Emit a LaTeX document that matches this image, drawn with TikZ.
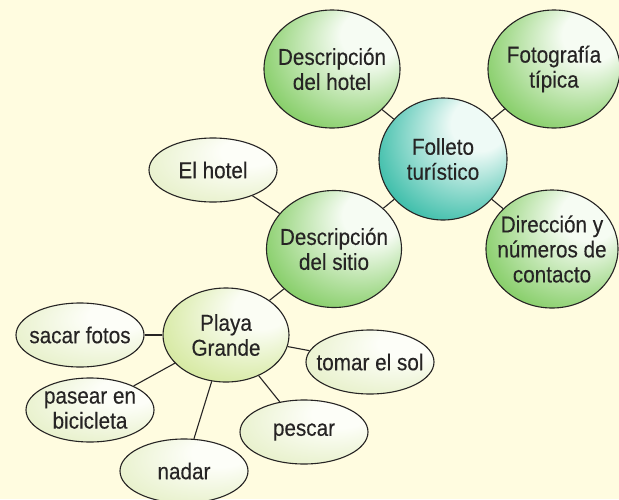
\documentclass[tikz,border=0pt]{standalone}
\usepackage{fontspec}
\setmainfont{Liberation Sans}[FakeStretch=0.9,FakeBold=0.3]
\usetikzlibrary{shapes.geometric}
\definecolor{paper}{RGB}{255,252,224}
\definecolor{inkgray}{RGB}{38,36,36}
\definecolor{leafdark}{RGB}{70,168,50}
\definecolor{leafmid}{RGB}{135,206,105}
\definecolor{leaflight}{RGB}{246,252,243}
\definecolor{tealdark}{RGB}{0,156,136}
\definecolor{tealmid}{RGB}{62,190,170}
\definecolor{teallight}{RGB}{238,250,246}
\definecolor{limedark}{RGB}{182,213,105}
\definecolor{limemid}{RGB}{214,233,162}
\definecolor{limelight}{RGB}{251,253,244}
\definecolor{paledark}{RGB}{208,226,160}
\definecolor{palemid}{RGB}{232,241,204}
\definecolor{palelight}{RGB}{253,254,248}
\pgfdeclareradialshading{leafball}{\pgfpoint{18bp}{18bp}}{color(0bp)=(leaflight); color(11bp)=(leaflight); color(34bp)=(leafmid); color(52bp)=(leafdark)}
\pgfdeclareradialshading{tealball}{\pgfpoint{18bp}{18bp}}{color(0bp)=(teallight); color(11bp)=(teallight); color(34bp)=(tealmid); color(52bp)=(tealdark)}
\pgfdeclareradialshading{limeball}{\pgfpoint{18bp}{18bp}}{color(0bp)=(limelight); color(11bp)=(limelight); color(34bp)=(limemid); color(52bp)=(limedark)}
\pgfdeclareradialshading{paleball}{\pgfpoint{18bp}{18bp}}{color(0bp)=(palelight); color(11bp)=(palelight); color(34bp)=(palemid); color(52bp)=(paledark)}

\begin{document}
\begin{tikzpicture}[x=1pt,y=-1pt,
  every node/.style={font=\fontsize{23}{25}\selectfont,text=inkgray,align=center},
  bubble/.style={ellipse,draw=inkgray,line width=1.1pt,inner xsep=-15pt,inner ysep=-10pt},
  leafbubble/.style={bubble,shading=leafball},
  tealbubble/.style={bubble,shading=tealball},
  limebubble/.style={bubble,shading=limeball},
  palebubble/.style={bubble,shading=paleball,minimum width=128pt,minimum height=64pt},
  link/.style={draw=inkgray,line width=1.1pt}]
  \useasboundingbox (0,0) rectangle (619,499);
  \fill[paper] (0,0) rectangle (619,499);
  % central topic and its branches
  \node[tealbubble,minimum width=128pt,minimum height=122pt] (folleto) at (443,159) {Folleto\\turístico};
  \node[leafbubble,minimum width=136pt,minimum height=118pt] (deschotel) at (332,69) {Descripción\\del hotel};
  \node[leafbubble,minimum width=132pt,minimum height=118pt] (foto) at (554,69) {Fotografía\\típica};
  \node[leafbubble,minimum width=132pt,minimum height=118pt] (direccion) at (552,249) {Dirección y\\números de\\contacto};
  \node[leafbubble,minimum width=135pt,minimum height=117pt] (sitio) at (334,249) {Descripción\\del sitio};
  % site details
  \node[palebubble] (elhotel) at (213,170) {El hotel};
  \node[limebubble,minimum width=126pt,minimum height=94pt] (playa) at (226,335) {Playa\\Grande};
  \node[palebubble] (fotos) at (80,335) {sacar fotos};
  \node[palebubble] (sol) at (370,362) {tomar el sol};
  \node[palebubble] (bici) at (90,410) {pasear en\\bicicleta};
  \node[palebubble] (pescar) at (304,432) {pescar};
  \node[palebubble] (nadar) at (184,471) {nadar};
  % connectors
  \draw[link] (folleto) -- (deschotel);
  \draw[link] (folleto) -- (foto);
  \draw[link] (folleto) -- (direccion);
  \draw[link] (folleto) -- (sitio);
  \draw[link] (sitio) -- (elhotel);
  \draw[link] (sitio) -- (playa);
  \draw[link] (playa) -- (fotos);
  \draw[link] (playa) -- (sol);
  \draw[link] (playa) -- (bici);
  \draw[link] (playa) -- (pescar);
  \draw[link] (playa) -- (nadar);
\end{tikzpicture}
\end{document}
